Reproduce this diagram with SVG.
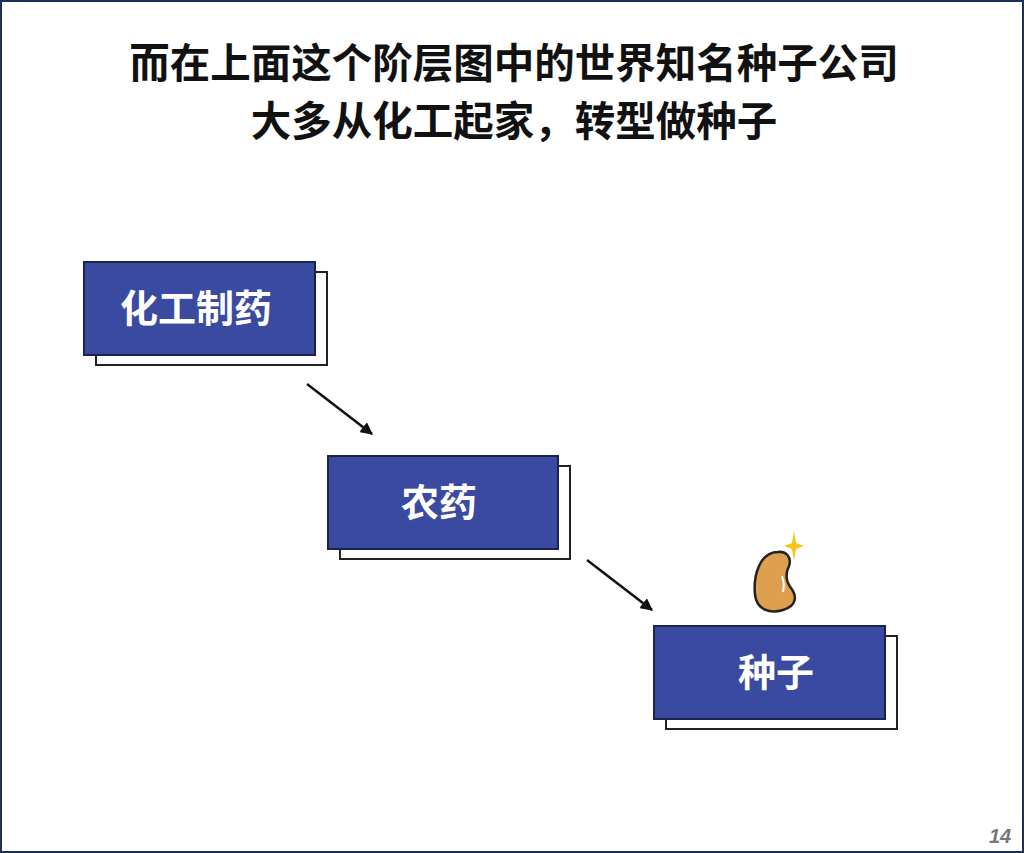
<svg xmlns="http://www.w3.org/2000/svg" width="1024" height="853" viewBox="0 0 1024 853">
<style>
.t{font-family:"Noto Sans CJK SC",sans-serif;font-weight:700;font-size:40.5px;fill:#111;text-anchor:middle}
.bt{font-family:"Noto Sans CJK SC",sans-serif;font-weight:700;font-size:38px;fill:#fff;text-anchor:middle}
.sh{fill:#fff;stroke:#222;stroke-width:2}
.bx{fill:#3a4aa0;stroke:#1a2350;stroke-width:2}
.ar{stroke:#111;stroke-width:2.5;fill:none}
</style>
<defs><marker id="a" viewBox="0 0 10 10" refX="9" refY="5" markerWidth="5" markerHeight="5" orient="auto"><path d="M0,0L10,5L0,10z" fill="#111"/></marker></defs>
<rect x="1" y="1" width="1022" height="851" fill="#fff" stroke="#1e2f55" stroke-width="2"/>
<text class="t" x="514" y="78">而在上面这个阶层图中的世界知名种子公司</text>
<text class="t" x="514" y="136">大多从化工起家，转型做种子</text>
<g id="n1"><rect class="sh" x="96" y="272" width="231" height="93"/><rect class="bx" x="84" y="262" width="231" height="93"/><text class="bt" x="196" y="322">化工制药</text></g>
<g id="n2"><rect class="sh" x="340" y="466" width="230" height="93"/><rect class="bx" x="328" y="456" width="230" height="93"/><text class="bt" x="439" y="516">农药</text></g>
<g id="n3"><rect class="sh" x="666" y="636" width="231" height="93"/><rect class="bx" x="654" y="626" width="231" height="93"/><text class="bt" x="776" y="686">种子</text></g>
<g id="bean">
<path d="M778,552 C760,552 753,575 755,595 C757,610 770,614 783,610 C797,606 797,596 791,588 C785,580 786,572 789,566 C792,557 786,551 778,552Z" fill="#dca04e" stroke="#222" stroke-width="2.5"/>
<path d="M782,576 Q785,584 783,592" stroke="#fff" stroke-width="2" fill="none"/>
<path d="M794,531 L796,543 L804,546 L796,549 L794,561 L792,549 L784,546 L792,543Z" fill="#f5c518"/>
</g>
<g id="edges">
<line class="ar" x1="307" y1="384" x2="372" y2="434" marker-end="url(#a)"/>
<line class="ar" x1="587" y1="560" x2="652" y2="610" marker-end="url(#a)"/>
</g>
<text x="1000" y="843" font-family="Liberation Sans,sans-serif" font-style="italic" font-weight="700" font-size="20" fill="#777" text-anchor="middle">14</text>
</svg>
